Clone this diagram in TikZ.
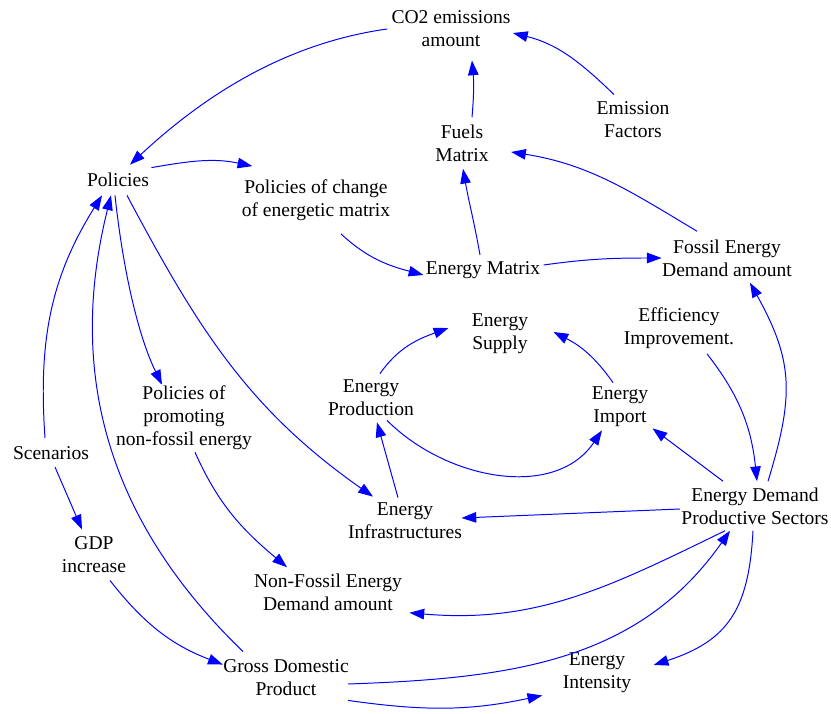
\documentclass[tikz,border=0pt]{standalone}
\usepackage{fontspec}
\setmainfont{Liberation Serif}
\usetikzlibrary{arrows.meta}

\tikzset{
    var/.style={inner sep=3pt, align=center, font=\fontsize{13.9}{16.2}\selectfont},
    link/.style={draw=blue, line width=0.7pt, -{Triangle[length=10.5pt,width=7.5pt]}}
}

\begin{document}
\begin{tikzpicture}[x=0.025cm, y=0.025cm]
        \useasboundingbox (0,0) rectangle (831,713);

        \node[var] (co2) at (451,684) {CO2 emissions\\amount};
        \node[var] (ef) at (633,593) {Emission\\Factors};
        \node[var] (fm) at (462,570) {Fuels\\Matrix};
        \node[var] (pol) at (118,533) {Policies};
        \node[var] (pcm) at (316,513) {Policies of change\\of energetic matrix};
        \node[var] (em) at (483,443) {Energy Matrix};
        \node[var] (fed) at (727,455) {Fossil Energy\\Demand amount};
        \node[var] (eff) at (679,385) {Efficiency\\Improvement.};
        \node[var] (es) at (500,379) {Energy\\Supply};
        \node[var] (ep) at (371,315) {Energy\\Production};
        \node[var] (eim) at (620,306) {Energy\\Import};
        \node[var] (ppn) at (184,295) {Policies of\\promoting\\non-fossil energy};
        \node[var] (sc) at (51,260) {Scenarios};
        \node[var] (eds) at (755,207) {Energy Demand\\Productive Sectors};
        \node[var] (ei) at (405,192) {Energy\\Infrastructures};
        \node[var] (gdpi) at (94,158) {GDP\\increase};
        \node[var] (nf) at (328,121) {Non-Fossil Energy\\Demand amount};
        \node[var] (gdp) at (286,35) {Gross Domestic\\Product};
        \node[var] (eint) at (597,40) {Energy\\Intensity};

        % emissions loop
        \draw[link] (co2.west) to[out=188, in=43, looseness=0.9] ([shift={(12,4)}]pol.north);
        \draw[link] ([shift={(-2,1)}]pol.north east) to[out=10, in=168] ([shift={(15,9)}]pcm.north west);
        \draw[link] ([shift={(25,-9)}]pcm.south) to[out=-43, in=165] ([shift={(2,-5)}]em.west);
        \draw[link] ([shift={(-3,2)}]em.north) to[out=100, in=-80] ([shift={(1,-3)}]fm.south);
        \draw[link] ([shift={(10,3)}]fm.north) to[out=85, in=-85] ([shift={(21,-9)}]co2.south);
        \draw[link] ([shift={(-19,3)}]ef.north) to[out=136, in=-14] ([shift={(-2,-4)}]co2.east);
        \draw[link] ([shift={(-30,4)}]fed.north) to[out=149, in=-9] ([shift={(18,-9)}]fm.east);
        \draw[link] ([shift={(-1,5)}]em.east) to[out=8, in=180] ([shift={(4,0)}]fed.west);

        % demand side
        \draw[link] ([shift={(13,2)}]eds.north) to[out=73, in=-61, looseness=1.15] ([shift={(23,-2)}]fed.south);
        \draw[link] ([shift={(28,-1)}]eff.south) to[out=-52, in=96] ([shift={(2,2)}]eds.north);
        \draw[link] ([shift={(-32,2)}]eds.north) -- ([shift={(0,3)}]eim.south east);
        \draw[link] ([shift={(3,-3)}]eds.west) -- ([shift={(-5,3)}]ei.east);
        \draw[link] ([shift={(-30,-2)}]eds.south) to[out=206, in=-5] ([shift={(3,2)}]nf.south east);
        \draw[link] ([shift={(-5,-6)}]gdp.east) to[out=2, in=235] ([shift={(-25,-2)}]eds.south);
        \draw[link] ([shift={(-5,0)}]gdp.south east) to[out=-8, in=192] ([shift={(-16,2)}]eint.south west);
        \draw[link] ([shift={(-2,-2)}]eds.south) to[out=-93, in=18, looseness=1.2] ([shift={(18,8)}]eint.east);

        % supply loop
        \draw[link] ([shift={(9,2)}]ep.north) to[out=55, in=200] ([shift={(-19,6)}]es.west);
        \draw[link] ([shift={(-7,0)}]eim.north) to[out=125, in=-27] ([shift={(21,2)}]es.east);
        \draw[link] ([shift={(16,0)}]ep.south) to[out=-45, in=236] ([shift={(-18,1)}]eim.south);
        \draw[link] ([shift={(-7,1)}]ei.north) -- ([shift={(6,-2)}]ep.south);

        % policies
        \draw[link] ([shift={(9,-4)}]pol.south) to[out=-62, in=145] ([shift={(-32,2)}]ei.north);
        \draw[link] ([shift={(-3,-4)}]pol.south) to[out=-84, in=116, looseness=0.8] ([shift={(-22,-3)}]ppn.north);
        \draw[link] ([shift={(-6,4)}]sc.north) to[out=94, in=238] ([shift={(-16,-4)}]pol.south);
        \draw[link] ([shift={(-43,4)}]gdp.north) to[out=136, in=-104] ([shift={(-7,-4)}]pol.south);
        \draw[link] ([shift={(4,-3)}]sc.south) -- ([shift={(-12,3)}]gdpi.north);
        \draw[link] ([shift={(16,-3)}]gdpi.south) to[out=-52, in=159] ([shift={(4,-9)}]gdp.north west);
        \draw[link] ([shift={(11,2)}]ppn.south) to[out=-66, in=140] ([shift={(-41,2)}]nf.north);
    \end{tikzpicture}
\end{document}
